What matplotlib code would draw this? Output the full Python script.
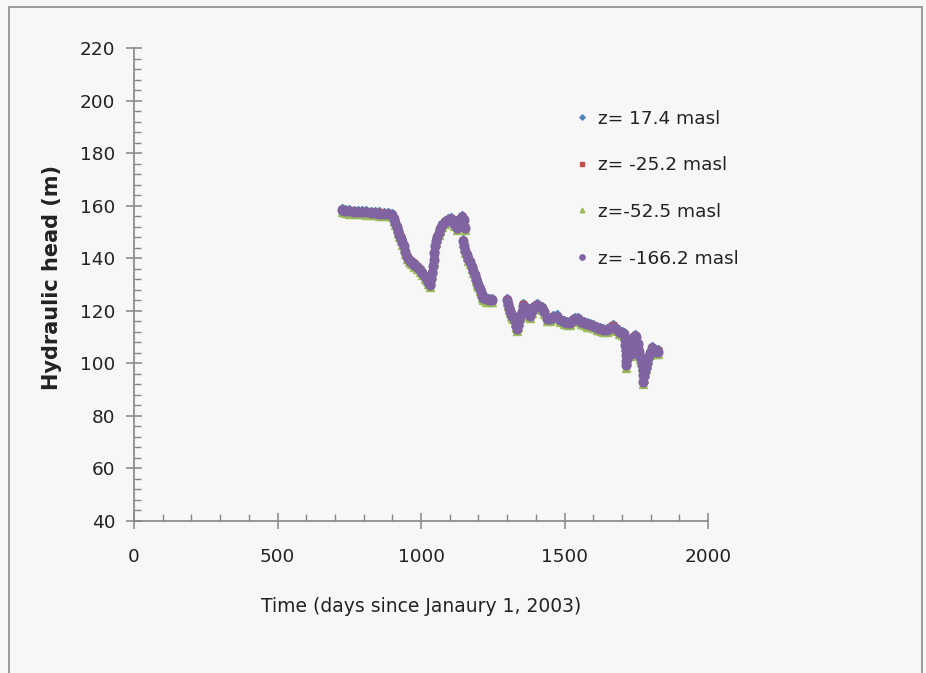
import matplotlib
matplotlib.use("Agg")
import matplotlib.pyplot as plt
from matplotlib.patches import Rectangle
from matplotlib.ticker import MultipleLocator

# days since Jan 1 2003, three measurement stretches
days_1 = [724, 735, 750, 765, 780, 795, 810, 825, 840, 855,
          870, 885, 900, 905, 910, 915, 920, 925, 930, 935,
          940, 945, 950, 957, 965, 975, 985, 995, 1005, 1013,
          1020, 1026, 1032, 1035, 1038, 1041, 1044, 1047, 1050, 1053,
          1057, 1061, 1066, 1073, 1083, 1095, 1105, 1115, 1124, 1133,
          1143, 1150, 1155]
days_2 = [1147, 1151, 1155, 1159, 1164, 1170, 1177, 1182, 1187, 1192,
          1196, 1200, 1204, 1208, 1213, 1217, 1226, 1236, 1246]
days_3 = [1298, 1302, 1306, 1310, 1314, 1318, 1322, 1326, 1330, 1333,
          1337, 1341, 1346, 1351, 1357, 1365, 1372, 1380, 1388, 1395,
          1403, 1412, 1420, 1428, 1438, 1448, 1460, 1473, 1485, 1497,
          1508, 1518, 1528, 1538, 1548, 1558, 1568, 1578, 1589, 1600,
          1612, 1623, 1635, 1648, 1660, 1670, 1680, 1690, 1700, 1708,
          1710, 1712, 1713, 1714, 1715, 1716, 1718, 1720, 1724, 1728,
          1732, 1736, 1740, 1745, 1750, 1755, 1759, 1763, 1767, 1770,
          1772, 1773, 1775, 1777, 1779, 1783, 1787, 1792, 1797, 1804,
          1812, 1820, 1827]
days = days_1 + days_2 + days_3

head_z17 = [159.1, 158.8, 158.6, 158.5, 158.4, 158.3, 158.2, 158.1, 158.0, 157.8,
            157.7, 157.5, 157.1, 155.8, 154.3, 152.8, 151.3, 149.8, 148.3, 146.8,
            145.3, 143.3, 141.3, 140.1, 139.3, 138.4, 137.6, 136.4, 135.1, 133.8,
            132.8, 131.8, 130.8, 132.8, 135.3, 137.8, 140.3, 142.8, 145.3, 147.3,
            149.0, 150.4, 151.8, 153.3, 154.6, 155.3, 155.8, 153.8, 152.3, 155.3,
            156.3, 155.3, 152.3,
            147.3, 145.3, 143.6, 142.0, 140.6, 139.3, 137.6, 135.8, 134.3, 132.8,
            131.6, 130.6, 129.1, 127.8, 126.6, 125.6, 125.1, 124.9, 124.9,
            124.8, 123.3, 121.8, 120.6, 119.6, 118.8, 118.3, 116.8, 115.0, 113.8,
            115.3, 117.3, 118.8, 120.3, 122.8, 121.8, 119.8, 118.8, 120.8, 122.3,
            123.0, 122.3, 121.8, 120.3, 117.6, 117.8, 118.3, 118.6, 117.3, 116.6,
            116.0, 116.3, 117.3, 117.6, 117.8, 116.6, 116.1, 115.6, 115.4, 115.1,
            114.3, 113.8, 113.5, 113.6, 114.3, 114.8, 113.8, 112.8, 112.3, 112.0,
            109.8, 107.8, 105.8, 103.8, 101.8, 100.0, 102.3, 104.8, 107.3, 105.8,
            104.3, 107.3, 110.3, 111.3, 110.8, 108.3, 105.3, 103.3, 102.6, 100.3,
            98.3, 96.3, 93.8, 95.8, 97.8, 99.3, 100.8, 102.8, 104.8, 106.5,
            105.8, 105.2, 105.3]

head_z25 = [158.7, 158.4, 158.2, 158.1, 158.0, 157.9, 157.8, 157.7, 157.6, 157.4,
            157.3, 157.1, 156.7, 155.4, 153.9, 152.4, 150.9, 149.4, 147.9, 146.4,
            144.9, 142.9, 140.9, 139.7, 138.9, 138.0, 137.2, 136.0, 134.7, 133.4,
            132.4, 131.4, 130.4, 132.4, 134.9, 137.4, 139.9, 142.4, 144.9, 146.9,
            148.6, 150.0, 151.4, 152.9, 154.2, 154.9, 155.4, 153.4, 151.9, 154.9,
            155.9, 154.9, 151.9,
            146.9, 144.9, 143.2, 141.6, 140.2, 138.9, 137.2, 135.4, 133.9, 132.4,
            131.2, 130.2, 128.7, 127.4, 126.2, 125.2, 124.7, 124.5, 124.5,
            124.4, 122.9, 121.4, 120.2, 119.2, 118.4, 117.9, 116.4, 114.6, 113.4,
            114.9, 116.9, 118.4, 119.9, 122.4, 121.4, 119.4, 118.4, 120.4, 121.9,
            122.6, 121.9, 121.4, 119.9, 117.2, 117.4, 117.9, 118.2, 116.9, 116.2,
            115.6, 115.9, 116.9, 117.2, 117.4, 116.2, 115.7, 115.2, 115.0, 114.7,
            113.9, 113.4, 113.1, 113.2, 113.9, 114.4, 113.4, 112.4, 111.9, 111.6,
            109.4, 107.4, 105.4, 103.4, 101.4, 99.6, 101.9, 104.4, 106.9, 105.4,
            103.9, 106.9, 109.9, 110.9, 110.4, 107.9, 104.9, 102.9, 102.2, 99.9,
            97.9, 95.9, 93.4, 95.4, 97.4, 98.9, 100.4, 102.4, 104.4, 106.1,
            105.4, 104.8, 104.9]

head_z52 = [157.5, 157.2, 157.0, 156.9, 156.8, 156.7, 156.6, 156.5, 156.4, 156.2,
            156.1, 155.9, 155.5, 154.2, 152.7, 151.2, 149.7, 148.2, 146.7, 145.2,
            143.7, 141.7, 139.7, 138.5, 137.7, 136.8, 136.0, 134.8, 133.5, 132.2,
            131.2, 130.2, 129.2, 131.2, 133.7, 136.2, 138.7, 141.2, 143.7, 145.7,
            147.4, 148.8, 150.2, 151.7, 153.0, 153.7, 154.2, 152.2, 150.7, 153.7,
            154.7, 153.7, 150.7,
            145.7, 143.7, 142.0, 140.4, 139.0, 137.7, 136.0, 134.2, 132.7, 131.2,
            130.0, 129.0, 127.5, 126.2, 125.0, 124.0, 123.5, 123.3, 123.3,
            123.2, 121.7, 120.2, 119.0, 118.0, 117.2, 116.7, 115.2, 113.4, 112.2,
            113.7, 115.7, 117.2, 118.7, 121.2, 120.2, 118.2, 117.2, 119.2, 120.7,
            121.4, 120.7, 120.2, 118.7, 116.0, 116.2, 116.7, 117.0, 115.7, 115.0,
            114.4, 114.7, 115.7, 116.0, 116.2, 115.0, 114.5, 114.0, 113.8, 113.5,
            112.7, 112.2, 111.9, 112.0, 112.7, 113.2, 112.2, 111.2, 110.7, 110.4,
            108.2, 106.2, 104.2, 102.2, 100.2, 98.4, 100.7, 103.2, 105.7, 104.2,
            102.7, 105.7, 108.7, 109.7, 109.2, 106.7, 103.7, 101.7, 101.0, 98.7,
            96.7, 94.7, 92.2, 94.2, 96.2, 97.7, 99.2, 101.2, 103.2, 104.9,
            104.2, 103.6, 103.7]

head_z166 = [158.3, 158.0, 157.8, 157.7, 157.6, 157.5, 157.4, 157.3, 157.2, 157.0,
             156.9, 156.7, 156.3, 155.0, 153.5, 152.0, 150.5, 149.0, 147.5, 146.0,
             144.5, 142.5, 140.5, 139.3, 138.5, 137.6, 136.8, 135.6, 134.3, 133.0,
             132.0, 131.0, 130.0, 132.0, 134.5, 137.0, 139.5, 142.0, 144.5, 146.5,
             148.2, 149.6, 151.0, 152.5, 153.8, 154.5, 155.0, 153.0, 151.5, 154.5,
             155.5, 154.5, 151.5,
             146.5, 144.5, 142.8, 141.2, 139.8, 138.5, 136.8, 135.0, 133.5, 132.0,
             130.8, 129.8, 128.3, 127.0, 125.8, 124.8, 124.3, 124.1, 124.1,
             124.0, 122.5, 121.0, 119.8, 118.8, 118.0, 117.5, 116.0, 114.2, 113.0,
             114.5, 116.5, 118.0, 119.5, 122.0, 121.0, 119.0, 118.0, 120.0, 121.5,
             122.2, 121.5, 121.0, 119.5, 116.8, 117.0, 117.5, 117.8, 116.5, 115.8,
             115.2, 115.5, 116.5, 116.8, 117.0, 115.8, 115.3, 114.8, 114.6, 114.3,
             113.5, 113.0, 112.7, 112.8, 113.5, 114.0, 113.0, 112.0, 111.5, 111.2,
             109.0, 107.0, 105.0, 103.0, 101.0, 99.2, 101.5, 104.0, 106.5, 105.0,
             103.5, 106.5, 109.5, 110.5, 110.0, 107.5, 104.5, 102.5, 101.8, 99.5,
             97.5, 95.5, 93.0, 95.0, 97.0, 98.5, 100.0, 102.0, 104.0, 105.7,
             105.0, 104.4, 104.5]

labels = ["z= 17.4 masl", "z= -25.2 masl", "z=-52.5 masl", "z= -166.2 masl"]

bg = "#f7f7f7"
axis_col = "#868686"
txt_col = "#222222"

fig = plt.figure(figsize=(9.26, 6.73), dpi=100, facecolor=bg)
ax = fig.add_axes([134 / 926, 1 - 521 / 673, 574 / 926, 473 / 673])
ax.set_facecolor(bg)

# outer chart frame
fig.patches.append(Rectangle((9 / 926, -0.05), 913 / 926, 1.05 - 7 / 673,
                             transform=fig.transFigure, fill=False,
                             edgecolor="#8c8c8c", linewidth=1.2))

ax.plot(days, head_z17, ls="none", marker="D", ms=4.5, color="#4f81bd", label=labels[0])
ax.plot(days, head_z25, ls="none", marker="s", ms=4.8, color="#c0504d", label=labels[1])
ax.plot(days, head_z52, ls="none", marker="^", ms=5.5, color="#9bbb59", label=labels[2])
ax.plot(days, head_z166, ls="none", marker="o", ms=6.3, color="#8064a2", label=labels[3])

ax.set_xlim(0, 2000)
ax.set_ylim(40, 220)
ax.xaxis.set_major_locator(MultipleLocator(500))
ax.xaxis.set_minor_locator(MultipleLocator(100))
ax.yaxis.set_major_locator(MultipleLocator(20))
ax.yaxis.set_minor_locator(MultipleLocator(4))

for s in ["top", "right"]:
    ax.spines[s].set_visible(False)
for s in ["left", "bottom"]:
    ax.spines[s].set_color(axis_col)
    ax.spines[s].set_linewidth(1.2)

ax.tick_params(which="major", direction="inout", length=11, width=1.1, color=axis_col,
               labelsize=13.3, labelcolor=txt_col)
ax.tick_params(which="minor", direction="in", length=5, width=1, color=axis_col)
ax.tick_params(axis="y", which="major", pad=8)
ax.tick_params(axis="x", which="major", pad=14)

ax.set_xlabel("Time (days since Janaury 1, 2003)", fontsize=13.5, labelpad=22, color=txt_col)
ax.set_ylabel("Hydraulic head (m)", fontsize=15, fontweight="bold", color=txt_col)
ax.yaxis.set_label_coords(-0.125, 0.515)

leg = ax.legend(loc="upper left", bbox_to_anchor=(559 / 926, 1 - 93 / 673),
                bbox_transform=fig.transFigure, frameon=False, fontsize=13.3,
                handlelength=0.7, handletextpad=0.5, labelspacing=1.55, markerscale=0.6)
for t in leg.get_texts():
    t.set_color(txt_col)

fig.savefig("out.png", dpi=100, facecolor=bg)
